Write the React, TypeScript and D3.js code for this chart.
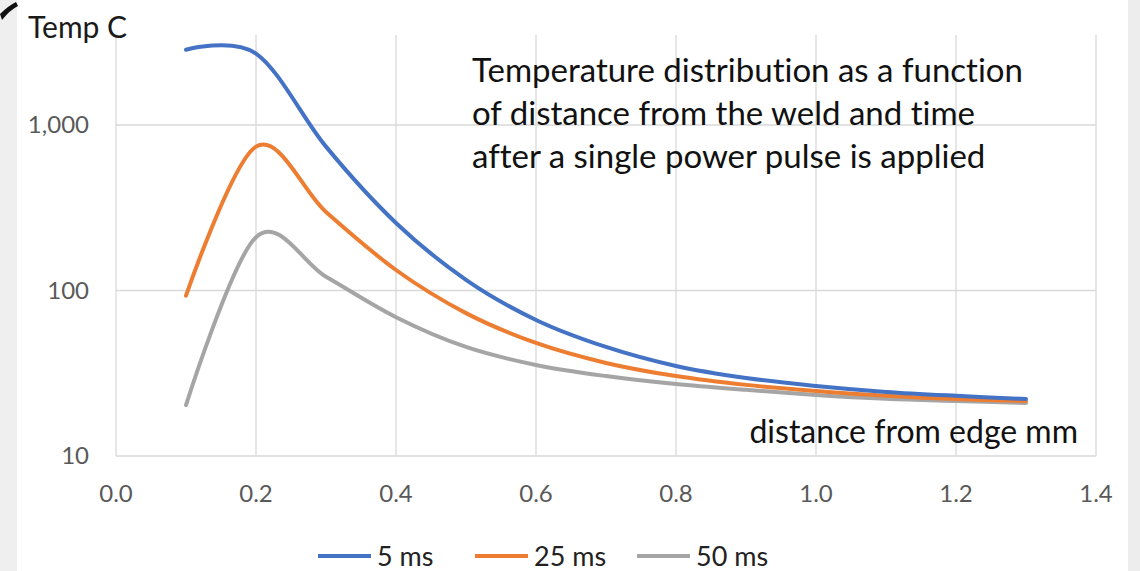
import * as d3 from 'd3'

const width = 1140
const height = 571

const xTicks = [0, 0.2, 0.4, 0.6, 0.8, 1.0, 1.2, 1.4]
const yTicks = [10, 100, 1000]

const distance = [0.1, 0.2, 0.3, 0.4, 0.5, 0.6, 0.7, 0.8, 0.9, 1.0, 1.1, 1.2, 1.3]
const temp5 = [2850, 2700, 740, 256, 116, 66.4, 45.6, 35, 29.6, 26.5, 24.4, 23.1, 22.1]
const temp25 = [93, 740, 298, 133, 73, 48.2, 36.5, 30.4, 26.9, 24.7, 23.1, 22.1, 21.5]
const temp50 = [20.3, 210, 121, 69, 45.6, 35.5, 30.4, 27.2, 25.1, 23.4, 22.2, 21.5, 20.9]

const seriesNames = ['5 ms', '25 ms', '50 ms']
const colors = ['#4472C4', '#ED7D31', '#A5A5A5']

const titleLines = [
  'Temperature distribution as a function',
  'of distance from the weld and time',
  'after a single power pulse is applied',
]

const margin = { top: 35, left: 116, right: 44, bottom: 115 }

function App() {
  const innerRight = width - margin.right
  const innerBottom = height - margin.bottom

  const xScale = d3.scaleLinear().domain([0, 1.4]).range([margin.left, innerRight])
  const yScale = d3
    .scaleLog()
    .domain([10, Math.pow(10, 3 + 90 / 165.5)])
    .range([innerBottom, margin.top])

  // excel style smoothing ~ uniform catmull-rom
  const line = d3
    .line<[number, number]>()
    .x(d => xScale(d[0]))
    .y(d => yScale(d[1]))
    .curve(d3.curveCatmullRom.alpha(0))

  const series = [temp5, temp25, temp50].map(vals =>
    distance.map((x, i) => [x, vals[i]] as [number, number])
  )

  const font = 'Lato, "Open Sans", sans-serif'

  return (
    <svg
      width={width}
      height={height}
      style={{ position: 'absolute', left: 0, top: 0, fontVariantLigatures: 'none' }}
      fontFamily={font}
    >
      <rect width={width} height={height} fill="#ffffff" />
      <rect x={0} y={0} width={17} height={height} fill="#efefef" />
      <rect x={1128} y={0} width={12} height={height} fill="#ededed" />
      <path d="M0,14 Q8,6 16,2 L18,6 Q10,10 2,20 Z" fill="#111" />

      {xTicks.map(t => (
        <line
          key={'gx' + t}
          x1={xScale(t)}
          x2={xScale(t)}
          y1={margin.top}
          y2={innerBottom}
          stroke="#d9d9d9"
          strokeWidth={1.3}
        />
      ))}
      {yTicks.map(t => (
        <line
          key={'gy' + t}
          x1={margin.left}
          x2={innerRight}
          y1={yScale(t)}
          y2={yScale(t)}
          stroke="#d9d9d9"
          strokeWidth={1.3}
        />
      ))}

      {xTicks.map(t => (
        <text
          key={'tx' + t}
          x={xScale(t)}
          y={502}
          textAnchor="middle"
          fontSize={24}
          fill="#595959"
        >
          {t.toFixed(1)}
        </text>
      ))}
      {yTicks.map(t => (
        <text
          key={'ty' + t}
          x={89}
          y={yScale(t) + 8}
          textAnchor="end"
          fontSize={24}
          fill="#595959"
        >
          {d3.format(',')(t)}
        </text>
      ))}

      {series.map((s, i) => (
        <path
          key={seriesNames[i]}
          d={line(s) || ''}
          fill="none"
          stroke={colors[i]}
          strokeWidth={4}
          strokeLinecap="round"
        />
      )).reverse()}

      <text x={28} y={38} fontSize={30} fill="#1a1a1a">
        Temp C
      </text>

      {titleLines.map((t, i) => (
        <text key={t} x={472} y={82 + i * 43} fontSize={33} fill="#111">
          {t}
        </text>
      ))}

      <text x={1078} y={443} textAnchor="end" fontSize={32} fill="#111">
        distance from edge mm
      </text>

      {seriesNames.map((n, i) => {
        const lx = [318, 475, 637][i]
        return (
          <g key={'lg' + n}>
            <line
              x1={lx}
              x2={lx + 53}
              y1={556}
              y2={556}
              stroke={colors[i]}
              strokeWidth={4}
            />
            <text x={lx + 59} y={566} fontSize={27} fill="#222">
              {n}
            </text>
          </g>
        )
      })}
    </svg>
  )
}

export default App
